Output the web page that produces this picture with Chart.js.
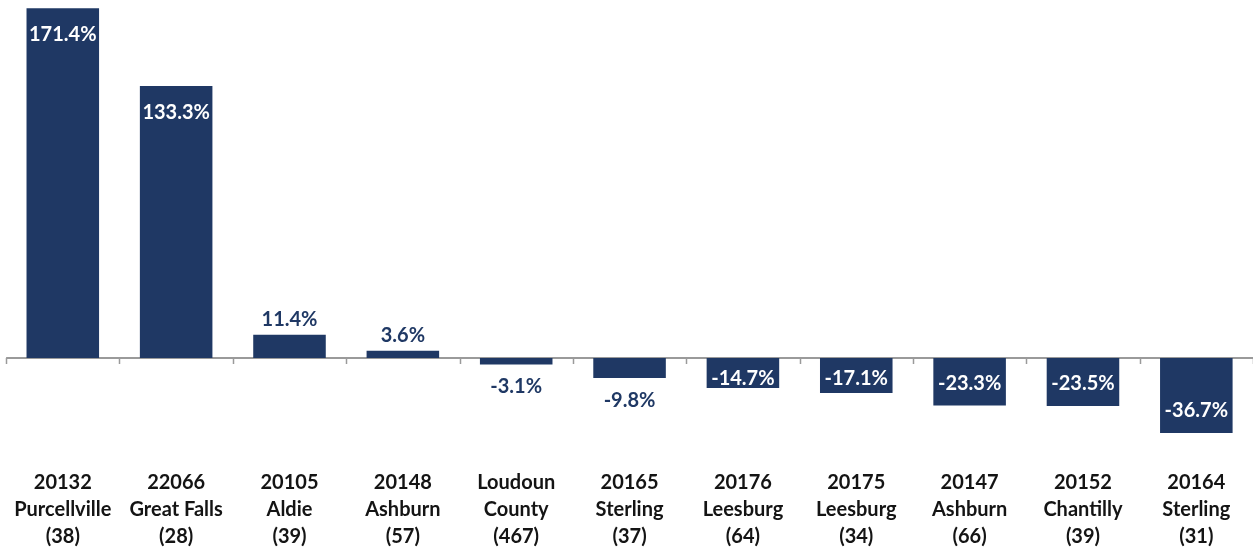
<!DOCTYPE html>
<html>
<head>
<meta charset="utf-8">
<script src="https://cdn.jsdelivr.net/npm/chart.js@4/dist/chart.umd.min.js"></script>
<style>
  html, body { margin: 0; padding: 0; background: #fff; }
  #wrap { width: 1253px; height: 551px; }
</style>
</head>
<body>
<div id="wrap"><canvas id="myChart" width="1253" height="551"></canvas></div>
<script>
// label lines under each bar
const codes = ['20132', '22066', '20105', '20148', 'Loudoun', '20165', '20176', '20175', '20147', '20152', '20164'];
const places = ['Purcellville', 'Great Falls', 'Aldie', 'Ashburn', 'County', 'Sterling', 'Leesburg', 'Leesburg', 'Ashburn', 'Chantilly', 'Sterling'];
const counts = [38, 28, 39, 57, 467, 37, 64, 34, 66, 39, 31];

// percent change per area
const changes = [171.4, 133.3, 11.4, 3.6, -3.1, -9.8, -14.7, -17.1, -23.3, -23.5, -36.7];

const navy = '#1f3864';
const labelFont = 'Lato, "Open Sans", sans-serif';

let labels = codes.map((c, i) => [c, places[i], '(' + counts[i] + ')']);

// zero line + little tick marks between the categories
const zeroAxis = {
  id: 'zeroAxis',
  beforeDatasetsDraw(chart) {
    const ctx = chart.ctx;
    const x = chart.scales.x;
    const y0 = Math.round(chart.scales.y.getPixelForValue(0));
    const half = (x.getPixelForValue(1) - x.getPixelForValue(0)) / 2;
    ctx.save();
    ctx.strokeStyle = '#9a9a9a';
    ctx.lineWidth = 2;
    ctx.beginPath();
    ctx.moveTo(chart.chartArea.left, y0);
    ctx.lineTo(chart.chartArea.right, y0);
    ctx.stroke();
    ctx.lineWidth = 1.5;
    for (let i = 0; i <= labels.length; i++) {
      let px = Math.round(x.getPixelForValue(i) - half) + 0.5;
      ctx.beginPath();
      ctx.moveTo(px, y0);
      ctx.lineTo(px, y0 + 6);
      ctx.stroke();
    }
    ctx.restore();
  }
};

// value labels: inside the bar when it is big enough, outside otherwise
const valueLabels = {
  id: 'valueLabels',
  afterDatasetsDraw(chart) {
    const ctx = chart.ctx;
    const meta = chart.getDatasetMeta(0);
    ctx.save();
    ctx.font = 'bold 20px ' + labelFont;
    ctx.textAlign = 'center';
    ctx.textBaseline = 'middle';
    meta.data.forEach((bar, i) => {
      const v = changes[i];
      const txt = v.toFixed(1) + '%';
      let ty;
      if (Math.abs(v) >= 12) {
        ctx.fillStyle = '#ffffff';
        if (v > 0) ty = bar.y + 26;
        else ty = Math.max(bar.base + 20, bar.y - 22);
      } else {
        ctx.fillStyle = navy;
        ty = v > 0 ? bar.y - 15 : bar.y + 22;
      }
      ctx.fillText(txt, bar.x, ty);
    });
    ctx.restore();
  }
};

let chart = new Chart(document.getElementById('myChart').getContext('2d'), {
  type: 'bar',
  data: {
    labels: labels,
    datasets: [{
      data: changes,
      backgroundColor: navy,
      borderWidth: 0,
      barPercentage: 0.64,
      categoryPercentage: 1.0
    }]
  },
  options: {
    responsive: false,
    animation: false,
    layout: { padding: { left: 5, right: 0, top: 0, bottom: 0 } },
    plugins: {
      legend: { display: false },
      tooltip: { enabled: false }
    },
    scales: {
      x: {
        grid: { display: false, drawTicks: false },
        border: { display: false },
        afterFit(scale) { scale.height = 96; },
        ticks: {
          color: '#141414',
          padding: 14,
          maxRotation: 0,
          autoSkip: false,
          font: { family: labelFont, size: 20, weight: 'bold', lineHeight: '27px' }
        }
      },
      y: {
        display: false,
        min: -47.5,
        max: 175.5
      }
    }
  },
  plugins: [zeroAxis, valueLabels]
});
</script>
</body>
</html>
